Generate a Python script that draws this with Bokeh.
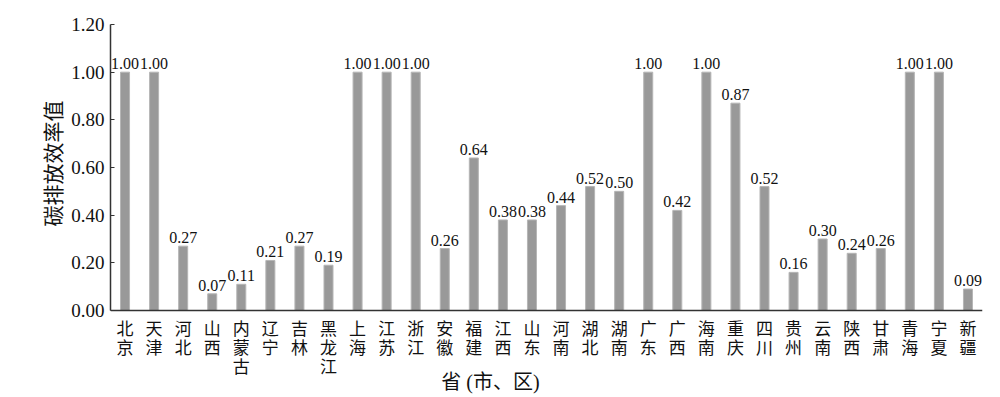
from bokeh.plotting import figure
from bokeh.models import (ColumnDataSource, FactorRange, Range1d, FixedTicker, NumeralTickFormatter,
                          LabelSet, CategoricalAxis, Title)
from bokeh.core.properties import value
from bokeh.embed import file_html
from bokeh.resources import INLINE

provinces = ["北京", "天津", "河北", "山西", "内蒙古", "辽宁", "吉林", "黑龙江", "上海", "江苏",
             "浙江", "安徽", "福建", "江西", "山东", "河南", "湖北", "湖南", "广东", "广西",
             "海南", "重庆", "四川", "贵州", "云南", "陕西", "甘肃", "青海", "宁夏", "新疆"]
efficiency = [1.00, 1.00, 0.27, 0.07, 0.11, 0.21, 0.27, 0.19, 1.00, 1.00,
              1.00, 0.26, 0.64, 0.38, 0.38, 0.44, 0.52, 0.50, 1.00, 0.42,
              1.00, 0.87, 0.52, 0.16, 0.30, 0.24, 0.26, 1.00, 1.00, 0.09]
y_ticks = [0.0, 0.2, 0.4, 0.6, 0.8, 1.0, 1.2]
y_title = "碳排放效率值"
x_title = "省 (市、区)"

serif = "Liberation Serif"
cjk = "Noto Sans CJK SC"
mixed = "'Liberation Serif', 'Noto Sans CJK SC'"

src = ColumnDataSource(dict(
    x=provinces, y=efficiency, lab=["%.2f" % v for v in efficiency]))

# frame extends below zero so the stacked category labels live inside it
p = figure(x_range=FactorRange(*provinces, range_padding=0), y_range=Range1d(-0.3608, 1.2),
           frame_width=872, frame_height=372, output_backend="svg", toolbar_location=None,
           x_axis_location=None,
           min_border_left=110, min_border_right=10, min_border_top=24, min_border_bottom=0)
p.outline_line_color = None
p.grid.grid_line_color = None

p.vbar(x="x", top="y", width=0.31, source=src, fill_color="#999999",
       line_color="#b5b5b5", line_width=1)

p.add_layout(LabelSet(x="x", y="y", text="lab", source=src, text_align="center",
                      text_baseline="alphabetic", y_offset=3,
                      text_font=value(serif), text_font_size="16px", text_color="#111111"))

ya = p.yaxis[0]
ya.bounds = (0, 1.2)
ya.ticker = FixedTicker(ticks=y_ticks)
ya.formatter = NumeralTickFormatter(format="0.00")
ya.major_label_text_font = serif
ya.major_label_text_font_size = "19px"
ya.major_label_text_color = "#111111"
ya.major_tick_in = 4
ya.major_tick_out = 0
ya.minor_tick_line_color = None
ya.major_label_standoff = 6
ya.axis_line_color = "#333333"
ya.axis_line_width = 1.5
ya.major_tick_line_color = "#333333"

p.add_layout(Title(text=y_title, align="right", offset=76, standoff=4,
                   text_font=cjk, text_font_size="21px", text_font_style="normal",
                   text_color="#111111"), "left")

xa = CategoricalAxis(fixed_location=0, ticker=FixedTicker(ticks=[]))
xa.major_label_standoff = 0
xa.major_tick_line_color = None
xa.minor_tick_line_color = None
xa.axis_line_color = "#333333"
xa.axis_line_width = 1.5
p.add_layout(xa, "below")

# vertical (stacked) category labels beneath the axis
ROW = 19
FIRST = 16.5
cx, cch, coff = [], [], []
for pv in provinces:
    for i, ch in enumerate(pv):
        cx.append(pv)
        cch.append(ch)
        coff.append(FIRST + i * ROW)
lab_src = ColumnDataSource(dict(x=cx, ch=cch, off=coff))

p.text(x="x", y=0, text="ch", y_offset="off", source=lab_src, text_align="center",
       text_baseline="middle", text_font=value(cjk), text_font_size="17px", text_color="#111111")
p.text(x=[13.07], y=[0], text=[x_title], y_offset=71, text_align="center",
       text_baseline="middle", text_font=value(mixed), text_font_size="20px",
       text_color="#111111")

open("out.html", "w").write(file_html(p, INLINE))
